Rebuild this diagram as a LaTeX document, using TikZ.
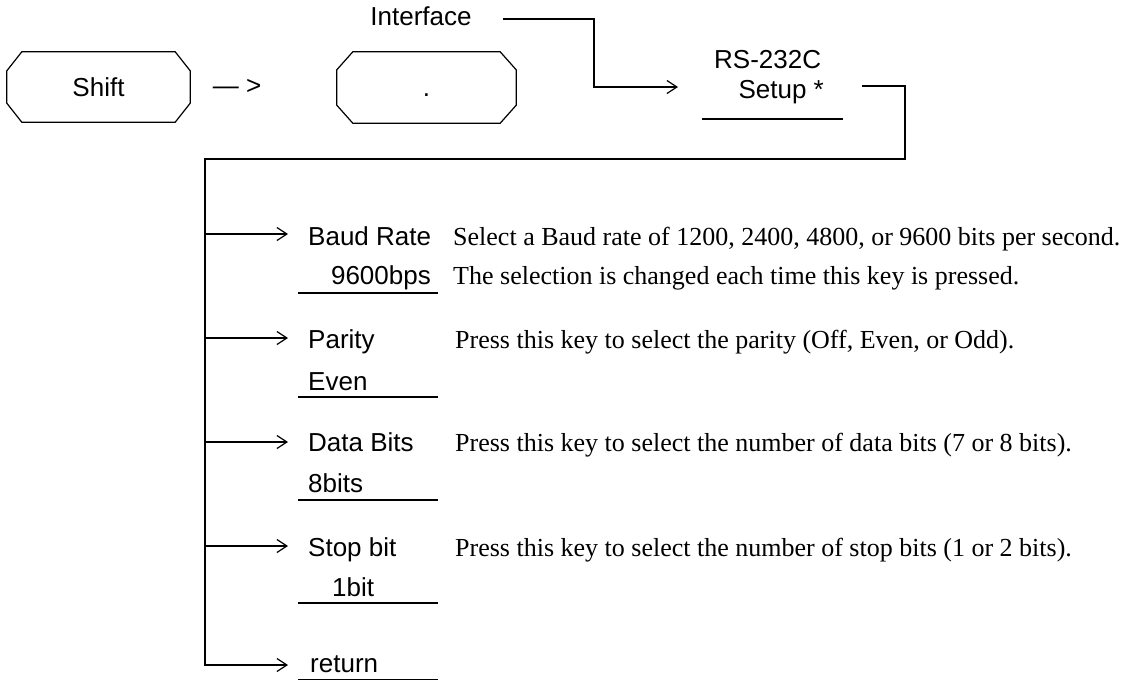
\documentclass[tikz,border=0pt]{standalone}
\usepackage{fontspec}
\setmainfont{Liberation Serif}
\setsansfont{Liberation Sans}
\usetikzlibrary{calc,arrows.meta}
\newcommand\keyboxdraw[3]{%
  \draw[conn] ($(#1.north west)+(#2,0)$) -- ($(#1.north east)+(-#2,0)$) -- ($(#1.north east)+(0,#3)$) -- ($(#1.south east)+(0,-#3)$) -- ($(#1.south east)+(-#2,0)$) -- ($(#1.south west)+(#2,0)$) -- ($(#1.south west)+(0,-#3)$) -- ($(#1.north west)+(0,#3)$) -- cycle;}
\begin{document}
\begin{tikzpicture}[x=1pt,y=-1pt,
  conn/.style={line width=1.2pt,black},
  arr/.style={conn,-{Straight Barb[length=10pt,width=13pt,line width=1.2pt]}},
  sans/.style={font=\sffamily\fontsize{26pt}{31pt}\selectfont,inner sep=0pt},
  serif/.style={font=\rmfamily\fontsize{26pt}{31pt}\selectfont,inner sep=0pt},
  keyn/.style={sans,inner sep=0pt}]
\useasboundingbox (0,0) rectangle (1139,681);
% top keys
\node[keyn,minimum width=183pt,minimum height=70pt] (shift) at (98.5,87) {Shift};
\keyboxdraw{shift}{15}{19}
\node[sans,anchor=base] (then) at (237,94) {— >};
\node[keyn,minimum width=179pt,minimum height=71pt] (dot) at (426.5,87.5) {\vphantom{S}.};
\keyboxdraw{dot}{16}{18}
\node[sans,anchor=base] (interface) at (421,25) {Interface};
\node[sans,anchor=base west] (rs) at (714,68) {RS-232C};
\node[sans,anchor=base east] (setup) at (824,98) {Setup *};
\coordinate (ulS1) at (702,119); \coordinate (ulS2) at (843,119);
\draw[conn] (ulS1) -- (ulS2);
\coordinate (ifStart) at (503,19);
\coordinate (ifCorner) at (594,87);
\coordinate (rsIn) at (678,87);
\draw[arr] (ifStart) -| (ifCorner) -- (rsIn);
% bus
\coordinate (sOut) at (862,86);
\coordinate (sCorner) at (905,86);
\coordinate (bTop) at (205,159);
\coordinate (tRet) at (288,665);
\draw[arr] (sOut) -- (sCorner) |- (bTop) |- (tRet);
\foreach \n/\y in {tBaud/234,tPar/338,tData/442,tStop/546}{
  \coordinate (\n) at (288,\y);
  \draw[arr] (bTop |- \n) -- (\n);
}
% rows
\node[sans,anchor=base west] (baud) at (308,245) {Baud Rate};
\node[sans,anchor=base east] (baudv) at (431,284) {9600bps};
\draw[conn] (298,293) -- (438,293);
\node[serif,anchor=base west] (d1a) at (453,245) {Select a Baud rate of 1200, 2400, 4800, or 9600 bits per second.};
\node[serif,anchor=base west] (d1b) at (453,284) {The selection is changed each time this key is pressed.};
\node[sans,anchor=base west] (par) at (308,348) {Parity};
\node[sans,anchor=base west] (parv) at (308,390) {Even};
\draw[conn] (298,397) -- (438,397);
\node[serif,anchor=base west] (d2) at (455,348) {Press this key to select the parity (Off, Even, or Odd).};
\node[sans,anchor=base west] (data) at (308,451) {Data Bits};
\node[sans,anchor=base west] (datav) at (308,492) {8bits};
\draw[conn] (298,500) -- (438,500);
\node[serif,anchor=base west] (d3) at (455,451) {Press this key to select the number of data bits (7 or 8 bits).};
\node[sans,anchor=base west] (stop) at (308,556) {Stop bit};
\node[sans,anchor=base west] (stopv) at (332,596) {1bit};
\draw[conn] (298,603) -- (438,603);
\node[serif,anchor=base west] (d4) at (455,556) {Press this key to select the number of stop bits (1 or 2 bits).};
\node[sans,anchor=base west] (ret) at (310,672) {return};
\draw[conn] (298,679.5) -- (438,679.5);
\end{tikzpicture}
\end{document}
